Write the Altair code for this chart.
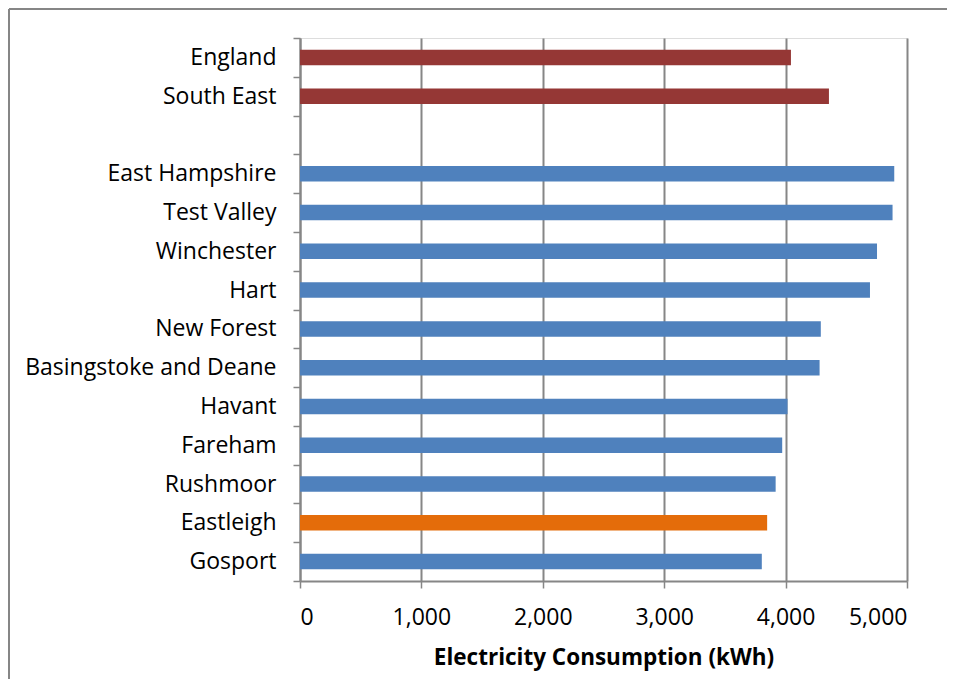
import altair as alt
import pandas as pd

areas = ["England", "South East", "East Hampshire", "Test Valley", "Winchester", "Hart",
         "New Forest", "Basingstoke and Deane", "Havant", "Fareham", "Rushmoor",
         "Eastleigh", "Gosport"]
consumption = [4044, 4357, 4895, 4881, 4753, 4695, 4290, 4280, 4016, 3972, 3918, 3848, 3804]
groups = ["Region", "Region", "District", "District", "District", "District", "District",
          "District", "District", "District", "District", "Eastleigh", "District"]
order = ["England", "South East", " ", "East Hampshire", "Test Valley", "Winchester", "Hart",
         "New Forest", "Basingstoke and Deane", "Havant", "Fareham", "Rushmoor",
         "Eastleigh", "Gosport"]
x_ticks = [0, 1000, 2000, 3000, 4000, 5000]

df = pd.DataFrame({"area": areas, "kwh": consumption, "group": groups})

FONT = "Open Sans"
GRAY = "#868686"

bars = alt.Chart(df).mark_bar(height={"band": 0.4}).encode(
    y=alt.Y("area:N", sort=order,
            scale=alt.Scale(domain=order, paddingInner=0, paddingOuter=0),
            axis=alt.Axis(title=None, tickBand="extent", tickSize=7, tickColor=GRAY,
                          tickWidth=1.5, domainColor=GRAY, domainWidth=2,
                          labelFont=FONT, labelFontSize=23, labelColor="#000000",
                          labelPadding=17, labelLimit=0, grid=False)),
    x=alt.X("kwh:Q", scale=alt.Scale(domain=[0, 5000], nice=False),
            axis=alt.Axis(title="Electricity Consumption (kWh)", values=x_ticks, format=",.0f",
                          tickSize=7, tickColor=GRAY, tickWidth=1.5,
                          domainColor=GRAY, domainWidth=2,
                          grid=True, gridColor=GRAY, gridWidth=2,
                          labelFont=FONT, labelFontSize=23, labelColor="#000000",
                          labelPadding=18,
                          titleFont=FONT, titleFontSize=22.5, titleFontWeight="bold",
                          titleColor="#000000", titlePadding=17)),
    color=alt.Color("group:N",
                    scale=alt.Scale(domain=["Region", "District", "Eastleigh"],
                                    range=["#953735", "#4F81BD", "#E46C0A"]),
                    legend=None),
)

frame_top = alt.Chart(df).mark_rule(stroke=GRAY, strokeWidth=1.5).encode(
    x=alt.value(-291), x2=alt.value(647), y=alt.value(-29)
)
frame_left = alt.Chart(df).mark_rule(stroke=GRAY, strokeWidth=1.5).encode(
    x=alt.value(-291), y=alt.value(-29), y2=alt.value(800)
)

chart = alt.layer(frame_top, frame_left, bars).properties(
    width=607, height=543,
    autosize=alt.AutoSizeParams(type="none"),
    padding={"left": 292, "top": 30, "right": 40, "bottom": 98},
).configure_view(stroke=None).configure(background="white")

chart.save("out.html", embed_options={"renderer": "svg", "actions": False})
